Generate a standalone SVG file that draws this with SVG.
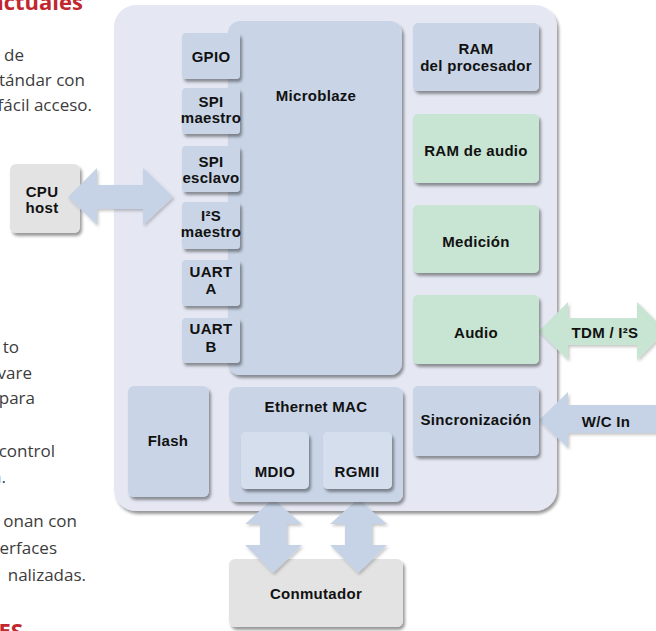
<svg xmlns="http://www.w3.org/2000/svg" width="656" height="631" viewBox="0 0 656 631">
<defs>
<filter id="sh" x="-10%" y="-10%" width="130%" height="130%">
<feDropShadow dx="2" dy="3" stdDeviation="1.4" flood-color="#000" flood-opacity="0.4"/>
</filter>
<filter id="shs" x="-10%" y="-10%" width="130%" height="130%">
<feDropShadow dx="1.5" dy="2" stdDeviation="1.5" flood-color="#000" flood-opacity="0.22"/>
</filter>
</defs>
<style>
.lbl{font-family:"Liberation Sans",Arial,sans-serif;font-weight:bold;font-size:15px;fill:#111;text-anchor:middle;letter-spacing:0.3px}
.body{font-family:"Open Sans","Liberation Sans",sans-serif;font-size:17px;fill:#3c3c3c;text-anchor:end}
.head{font-family:"Open Sans","Liberation Sans",sans-serif;font-size:22px;font-weight:bold;fill:#c1272d;text-anchor:end}
.blue{fill:#c9d5e6}
.green{fill:#c8e4d2}
.gray{fill:#e3e3e3}
.light{fill:#d5deec}
.arrB{fill:#c6d3e6}
.arrG{fill:#c8e4d2}
</style>
<rect width="656" height="631" fill="#ffffff"/>

<g id="page-text">
<text class="head" x="83" y="10">actuales</text>
<text class="body" x="24" y="61">de</text>
<text class="body" x="85" y="86">tándar con</text>
<text class="body" x="92" y="111">fácil acceso.</text>
<text class="body" x="19" y="353">to</text>
<text class="body" x="32" y="379">vare</text>
<text class="body" x="35" y="404">para</text>
<text class="body" x="55" y="457">control</text>
<text class="body" x="6" y="483">n.</text>
<text class="body" x="77" y="527">onan con</text>
<text class="body" x="57" y="554">erfaces</text>
<text class="body" x="86" y="581">nalizadas.</text>
<text class="head" x="23" y="639">ES</text>
</g>

<g id="container">
<rect x="114" y="5" width="443" height="506" rx="22" fill="#e5e8f3" filter="url(#sh)"/>
</g>

<g id="conmutador">
<rect class="gray" x="229" y="559" width="174" height="68" rx="6" filter="url(#sh)"/>
<text class="lbl" x="316" y="599">Conmutador</text>
</g>

<g id="cpu-host">
<rect class="gray" x="10" y="164" width="70" height="69" rx="6" filter="url(#sh)"/>
<text class="lbl" x="42" y="197">CPU</text>
<text class="lbl" x="42" y="213">host</text>
</g>

<g id="connectors">
<polygon class="arrB" filter="url(#shs)" points="68,197 97,168 97,185 143,185 143,168 173,197 143,225 143,209 97,209 97,225"/>
<polygon class="arrG" filter="url(#shs)" points="539,331 568,302 568,318 637,318 637,302 666,331 637,360 637,345 568,345 568,360"/>
<polygon class="arrB" filter="url(#shs)" points="539,420 568,392 568,405 670,405 670,433 568,433 568,448"/>
<polygon class="arrB" filter="url(#shs)" points="273,499 302,524 287,524 287,545 302,545 273,573 245,545 260,545 260,524 245,524"/>
<polygon class="arrB" filter="url(#shs)" points="358,499 387,524 372,524 372,545 387,545 358,573 330,545 345,545 345,524 330,524"/>
<text class="lbl" x="605" y="338">TDM / I²S</text>
<text class="lbl" x="606" y="427">W/C In</text>
</g>

<g id="microblaze">
<rect class="blue" x="228" y="21" width="174" height="354" rx="12" filter="url(#sh)"/>
<text class="lbl" x="316" y="101">Microblaze</text>
</g>

<g id="gpio">
<rect class="blue" x="182" y="33" width="58" height="46" rx="4" filter="url(#sh)"/>
<text class="lbl" x="211" y="62">GPIO</text>
</g>
<g id="spi-maestro">
<rect class="blue" x="182" y="88" width="58" height="46" rx="4" filter="url(#sh)"/>
<text class="lbl" x="211" y="107">SPI</text>
<text class="lbl" x="211" y="123">maestro</text>
</g>
<g id="spi-esclavo">
<rect class="blue" x="182" y="146" width="58" height="46" rx="4" filter="url(#sh)"/>
<text class="lbl" x="211" y="167">SPI</text>
<text class="lbl" x="211" y="183">esclavo</text>
</g>
<g id="i2s-maestro">
<rect class="blue" x="182" y="202" width="58" height="47" rx="4" filter="url(#sh)"/>
<text class="lbl" x="211" y="221">I²S</text>
<text class="lbl" x="211" y="237">maestro</text>
</g>
<g id="uart-a">
<rect class="blue" x="182" y="260" width="58" height="46" rx="4" filter="url(#sh)"/>
<text class="lbl" x="211" y="277">UART</text>
<text class="lbl" x="211" y="294">A</text>
</g>
<g id="uart-b">
<rect class="blue" x="182" y="318" width="58" height="45" rx="4" filter="url(#sh)"/>
<text class="lbl" x="211" y="334">UART</text>
<text class="lbl" x="211" y="352">B</text>
</g>

<g id="ram-procesador">
<rect class="blue" x="413" y="23" width="126" height="68" rx="5" filter="url(#sh)"/>
<text class="lbl" x="476" y="54">RAM</text>
<text class="lbl" x="476" y="71">del procesador</text>
</g>
<g id="ram-audio">
<rect class="green" x="413" y="114" width="126" height="69" rx="5" filter="url(#sh)"/>
<text class="lbl" x="476" y="156">RAM de audio</text>
</g>
<g id="medicion">
<rect class="green" x="413" y="205" width="126" height="68" rx="5" filter="url(#sh)"/>
<text class="lbl" x="476" y="247">Medición</text>
</g>
<g id="audio">
<rect class="green" x="413" y="295" width="126" height="69" rx="5" filter="url(#sh)"/>
<text class="lbl" x="476" y="338">Audio</text>
</g>
<g id="sincronizacion">
<rect class="blue" x="413" y="386" width="126" height="70" rx="5" filter="url(#sh)"/>
<text class="lbl" x="476" y="425">Sincronización</text>
</g>

<g id="flash">
<rect class="blue" x="128" y="386" width="81" height="111" rx="6" filter="url(#sh)"/>
<text class="lbl" x="168" y="446">Flash</text>
</g>

<g id="ethernet-mac">
<rect class="blue" x="229" y="387" width="174" height="115" rx="8" filter="url(#sh)"/>
<text class="lbl" x="316" y="412">Ethernet MAC</text>
</g>
<g id="mdio">
<rect class="light" x="241" y="432" width="68" height="57" rx="5" filter="url(#sh)"/>
<text class="lbl" x="275" y="477">MDIO</text>
</g>
<g id="rgmii">
<rect class="light" x="323" y="432" width="69" height="57" rx="5" filter="url(#sh)"/>
<text class="lbl" x="357" y="477">RGMII</text>
</g>
</svg>
